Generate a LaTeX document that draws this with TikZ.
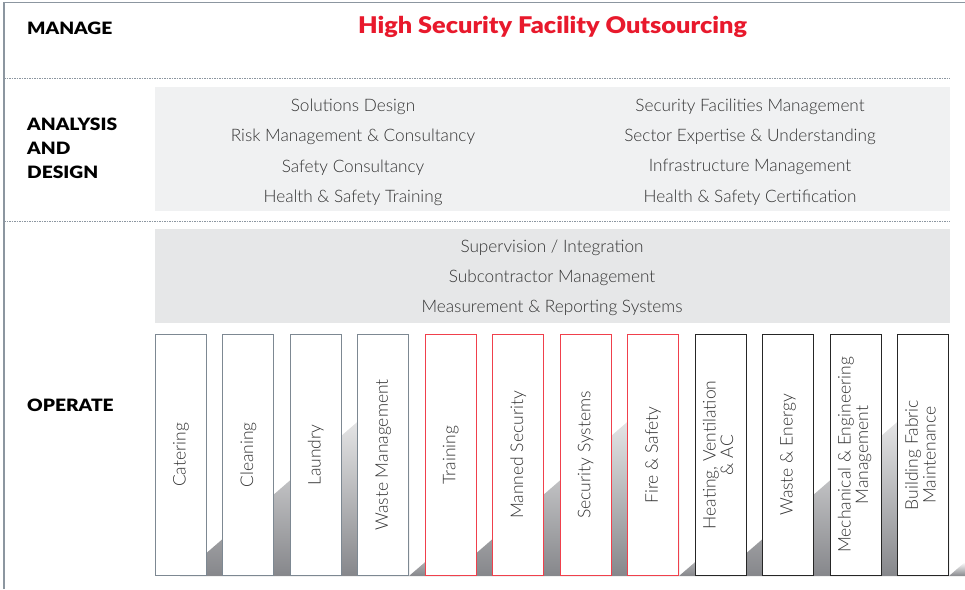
\documentclass[tikz,border=0pt]{standalone}
\usepackage{fontspec}
\setmainfont{Lato Light}
\newfontfamily\headfont[FakeStretch=1.13]{Lato Black}
\newfontfamily\titlefont[FakeStretch=1.1]{Lato Black}

\definecolor{framegray}{HTML}{8C96A0}
\definecolor{panelA}{HTML}{F0F1F2}
\definecolor{panelB}{HTML}{E6E7E8}
\definecolor{hsred}{HTML}{E8192C}
\definecolor{boxred}{HTML}{F0404C}
\definecolor{boxgray}{HTML}{7D8892}
\definecolor{boxdark}{HTML}{262626}
\definecolor{itemtext}{HTML}{333333}
\definecolor{shadowgray}{HTML}{86878B}

\begin{document}
\begin{tikzpicture}[x=1pt,y=-1pt,node distance=67.45pt]
\tikzstyle{rowlabel}=[anchor=west,inner sep=0pt,font=\headfont\fontsize{17}{17}\selectfont]
\tikzstyle{item}=[inner sep=0pt,text=itemtext,node distance=30.4pt,font=\fontsize{17.2}{17}\selectfont]
\tikzstyle{col}=[draw,fill=white,line width=1pt,minimum width=51pt,minimum height=241pt,inner sep=0pt,text=itemtext,font=\fontsize{17.5}{17}\selectfont]
\tikzstyle{gcol}=[col,draw=boxgray]
\tikzstyle{rcol}=[col,draw=boxred]
\tikzstyle{dcol}=[col,draw=boxdark]
\tikzstyle{sep}=[framegray,line width=0.6pt,dash pattern=on 1.5pt off 1pt]
\tikzstyle{floor}=[top color=white,middle color=black!6,bottom color=shadowgray]
\useasboundingbox (0,0) rectangle (965,589);

% outer frame and separators
\draw[framegray,line width=1.5pt] (4,589) -- (4,2.5) -- (965,2.5);
\draw[sep] (4,78) -- (950,78);
\draw[sep] (4,221) -- (950,221);

% grey panels
\fill[panelA] (155,87) rectangle (950,211);
\fill[panelB] (155,229) rectangle (950,323);

% floor shadows behind the columns
\shade[floor] (180,576) -- (409,377) -- (409,576) -- cycle;
\shade[top color=white,bottom color=shadowgray] (409,576) -- (460,532) -- (460,576) -- cycle;
\shade[floor] (450,576) -- (679,377) -- (679,576) -- cycle;
\shade[top color=white,bottom color=shadowgray] (679,576) -- (730,532) -- (730,576) -- cycle;
\shade[floor] (720,576) -- (949,377) -- (949,576) -- cycle;
\shade[top color=white,bottom color=shadowgray] (949,576) -- (965,562) -- (965,576) -- cycle;

% row headings
\node[rowlabel] (manage)   at (27,28)  {MANAGE};
\node[rowlabel] (analysis) at (27,124) {ANALYSIS};
\node[rowlabel] (and)      at (27,148) {AND};
\node[rowlabel] (design)   at (27,172) {DESIGN};
\node[rowlabel] (operate)  at (27,405) {OPERATE};

\node[inner sep=0pt,text=hsred,font=\titlefont\fontsize{23}{23}\selectfont] (title) at (552.5,27) {High Security Facility Outsourcing};

% analysis and design
\node[item] (sd)  at (353,106.5)    {Solutions Design};
\node[item] (rmc) [below of=sd]     {Risk Management \& Consultancy};
\node[item] (sc)  [below of=rmc]    {Safety Consultancy};
\node[item] (hst) [below of=sc]     {Health \& Safety Training};
\node[item] (sfm) at (750,106.5)    {Security Facilities Management};
\node[item] (seu) [below of=sfm]    {Sector Expertise \& Understanding};
\node[item] (im)  [below of=seu]    {Infrastructure Management};
\node[item] (hsc) [below of=im]     {Health \& Safety Certification};

% operate
\node[item] (si)  at (552,247.5)    {Supervision / Integration};
\node[item] (sm)  [below of=si]     {Subcontractor Management};
\node[item] (mrs) [below of=sm]     {Measurement \& Reporting Systems};

\node[gcol] (cat) at (181,455)      {\rotatebox{90}{Catering}};
\node[gcol] (cln) [right of=cat]    {\rotatebox{90}{Cleaning}};
\node[gcol] (lau) [right of=cln]    {\rotatebox{90}{Laundry}};
\node[gcol] (wm)  [right of=lau]    {\rotatebox{90}{Waste Management}};
\node[rcol] (tr)  [right of=wm]     {\rotatebox{90}{Training}};
\node[rcol] (ms)  [right of=tr]     {\rotatebox{90}{Manned Security}};
\node[rcol] (ss)  [right of=ms]     {\rotatebox{90}{Security Systems}};
\node[rcol] (fs)  [right of=ss]     {\rotatebox{90}{Fire \& Safety}};
\node[dcol] (hva) [right of=fs]     {\rotatebox{90}{\begin{tabular}{@{}c@{}}Heating, Ventilation\\\& AC\end{tabular}}};
\node[dcol] (we)  [right of=hva]    {\rotatebox{90}{Waste \& Energy}};
\node[dcol] (mem) [right of=we]     {\rotatebox{90}{\begin{tabular}{@{}c@{}}Mechanical \& Engineering\\Management\end{tabular}}};
\node[dcol] (bfm) [right of=mem]    {\rotatebox{90}{\begin{tabular}{@{}c@{}}Building Fabric\\Maintenance\end{tabular}}};
\end{tikzpicture}
\end{document}
